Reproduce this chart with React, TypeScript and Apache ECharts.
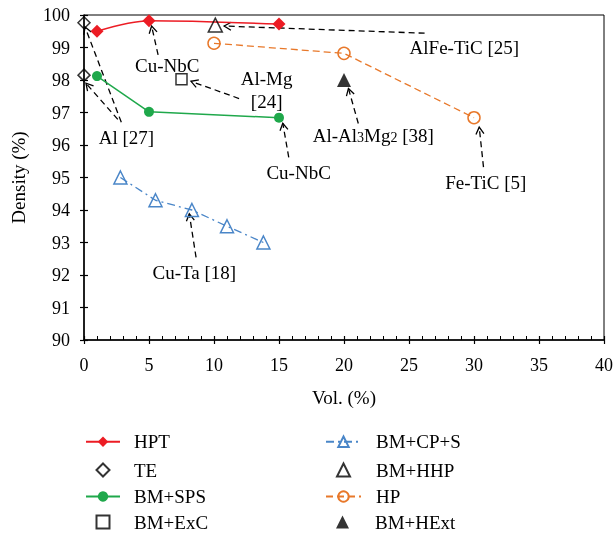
import React, { useEffect, useRef } from "react";
import * as echarts from "echarts";

const FONT = "Liberation Serif";

// Series data (Vol. %, Density %)
const hptX = [1, 5, 15];
const hptY = [99.5, 99.82, 99.72];
const teX = [0, 0];
const teY = [99.76, 98.15];
const spsX = [1, 5, 15];
const spsY = [98.12, 97.02, 96.84];
const excX = [7.5];
const excY = [98.02];
const cpsX = [2.8, 5.5, 8.3, 11, 13.8];
const cpsY = [95, 94.3, 94, 93.5, 93];
const hhpX = [10.1];
const hhpY = [99.69];
const hpX = [10, 20, 30];
const hpY = [99.13, 98.82, 96.84];
const hextX = [20];
const hextY = [98];

// Annotation labels (data coordinates)
const labelText = [
  "Cu-NbC",
  "Al [27]",
  "Al-Mg\n[24]",
  "AlFe-TiC [25]",
  "{n|Al-Al}{s|3}{n|Mg}{s|2}{n| [38]}",
  "Cu-NbC",
  "Fe-TiC [5]",
  "Cu-Ta [18]",
];
const labelX = [6.4, 3.26, 14.05, 29.26, 22.25, 16.51, 30.91, 8.49];
const labelY = [98.45, 96.24, 97.7, 98.99, 96.3, 95.16, 94.86, 92.08];

// Annotation arrows (from -> to, data coordinates)
const arrowFromX = [5.7, 2.87, 2.6, 11.93, 26.2, 21.1, 15.75, 30.73, 8.62];
const arrowFromY = [98.77, 96.7, 96.79, 97.43, 99.44, 96.66, 95.62, 95.32, 92.54];
const arrowToX = [5.2, 0.08, 0.15, 8.23, 10.78, 20.34, 15.29, 30.4, 8.1];
const arrowToY = [99.66, 99.63, 97.9, 97.96, 99.66, 97.74, 96.67, 96.55, 93.88];

// Legend entries: column 1 then column 2
const legendCol1 = ["HPT", "TE", "BM+SPS", "BM+ExC"];
const legendCol2 = ["BM+CP+S", "BM+HHP", "HP", "BM+HExt"];
const lineSeriesNames = ["HPT", "BM+SPS", "BM+CP+S", "HP"];

const xMin = 0, xMax = 40, xStep = 5;
const yMin = 90, yMax = 100, yStep = 1;

const RED = "#EC1C24";
const GREEN = "#1FA84B";
const BLUE = "#4A86C8";
const ORANGE = "#E8782A";

const zip = (xs: number[], ys: number[]) => xs.map((x, i) => [x, ys[i]]);

export default function App() {
  const ref = useRef<HTMLDivElement>(null);
  useEffect(() => {
    if (!ref.current) return;
    const chart = echarts.init(ref.current, undefined, { renderer: "svg" });
    const tickText = { fontFamily: FONT, fontSize: 18, color: "#000" };
    const textStyle = { fontFamily: FONT, fontSize: 19, color: "#000" };
    const hollow = (c: string) => ({ color: "rgba(255,255,255,0)", borderColor: c, borderWidth: 1.5 });

    const baseX = { type: "value", min: xMin, max: xMax, interval: xStep, splitLine: { show: false } };
    const baseY = { type: "value", min: yMin, max: yMax, interval: yStep, splitLine: { show: false } };

    const rowCenters = [441.7, 470, 496.5, 522];
    const makeLegends = (names: string[], lineLeft: number, lineW: number, textStart: number) =>
      names.map((nm, i) => {
        const isLine = lineSeriesNames.includes(nm);
        const w = isLine ? lineW : 13;
        const left = isLine ? lineLeft : lineLeft + lineW / 2 - w / 2;
        const pad = textStart - (left + w + 5);
        return {
          orient: "vertical",
          left,
          top: rowCenters[i] - 9.5,
          padding: 0,
          itemGap: 0,
          itemWidth: w,
          itemHeight: 13,
          textStyle: { ...textStyle, lineHeight: 19, padding: [0, 0, 0, pad] },
          data: [nm],
        };
      });

    const option: any = {
      animation: false,
      grid: {
        left: 84,
        right: 9,
        top: 15,
        bottom: 195,
        show: true,
        borderColor: "#000",
        borderWidth: 1,
      },
      xAxis: [
        {
          ...baseX,
          position: "bottom",
          name: "Vol. (%)",
          nameLocation: "middle",
          nameGap: 48,
          nameTextStyle: textStyle,
          axisLine: { lineStyle: { color: "#000", width: 1.5 } },
          axisTick: { inside: true, length: 4, lineStyle: { color: "#000", width: 1.2 } },
          minorTick: { show: true, splitNumber: 5, length: 4, lineStyle: { color: "#000", width: 1 } },
          axisLabel: { ...tickText, margin: 16 },
        },
        {
          ...baseX,
          position: "bottom",
          axisLine: { show: false },
          axisTick: { inside: false, length: 4, lineStyle: { color: "#000", width: 1.2 } },
          axisLabel: { show: false },
        },
      ],
      yAxis: [
        {
          ...baseY,
          position: "left",
          name: "Density (%)",
          nameLocation: "middle",
          nameGap: 56,
          nameTextStyle: textStyle,
          axisLine: { lineStyle: { color: "#000", width: 1.5 } },
          axisTick: { inside: true, length: 4, lineStyle: { color: "#000", width: 1.2 } },
          axisLabel: { ...tickText, margin: 14 },
        },
        {
          ...baseY,
          position: "left",
          axisLine: { show: false },
          axisTick: { inside: false, length: 4, lineStyle: { color: "#000", width: 1.2 } },
          axisLabel: { show: false },
        },
      ],
      legend: [...makeLegends(legendCol1, 85, 34, 133), ...makeLegends(legendCol2, 325, 35, 375)],
      series: [
        {
          name: "HPT",
          type: "line",
          data: zip(hptX, hptY),
          symbol: "diamond",
          symbolSize: 13,
          itemStyle: { color: RED },
          lineStyle: { color: RED, width: 1.5 },
          smooth: 0.3,
          z: 5,
        },
        {
          name: "TE",
          type: "scatter",
          data: zip(teX, teY),
          symbol: "diamond",
          symbolSize: 12,
          itemStyle: hollow("#000"),
          z: 6,
        },
        {
          name: "BM+SPS",
          type: "line",
          data: zip(spsX, spsY),
          symbol: "circle",
          symbolSize: 10,
          itemStyle: { color: GREEN },
          lineStyle: { color: GREEN, width: 1.5 },
          z: 5,
        },
        {
          name: "BM+ExC",
          type: "scatter",
          data: zip(excX, excY),
          symbol: "rect",
          symbolSize: 11,
          itemStyle: hollow("#000"),
          z: 6,
        },
        {
          name: "BM+CP+S",
          type: "line",
          data: zip(cpsX, cpsY),
          symbol: "triangle",
          symbolSize: 13,
          itemStyle: hollow(BLUE),
          lineStyle: { color: BLUE, width: 1.3, type: [8, 4, 2, 4] },
          z: 5,
        },
        {
          name: "BM+HHP",
          type: "scatter",
          data: zip(hhpX, hhpY),
          symbol: "triangle",
          symbolSize: 14,
          itemStyle: hollow("#000"),
          z: 6,
        },
        {
          name: "HP",
          type: "line",
          data: zip(hpX, hpY),
          symbol: "circle",
          symbolSize: 12,
          itemStyle: hollow(ORANGE),
          lineStyle: { color: ORANGE, width: 1.3, type: [7, 4] },
          z: 5,
        },
        {
          name: "BM+HExt",
          type: "scatter",
          data: zip(hextX, hextY),
          symbol: "triangle",
          symbolSize: 14,
          itemStyle: { color: "#000" },
          z: 6,
        },
        {
          name: "arrows",
          type: "custom",
          coordinateSystem: "cartesian2d",
          silent: true,
          z: 4,
          data: arrowFromX.map((x, i) => [x, arrowFromY[i], arrowToX[i], arrowToY[i]]),
          renderItem: (params: any, api: any) => {
            const p1 = api.coord([api.value(0), api.value(1)]);
            const p2 = api.coord([api.value(2), api.value(3)]);
            const ang = Math.atan2(p2[1] - p1[1], p2[0] - p1[0]);
            const L = 8;
            const a = Math.PI / 6;
            const h1 = [p2[0] - L * Math.cos(ang - a), p2[1] - L * Math.sin(ang - a)];
            const h2 = [p2[0] - L * Math.cos(ang + a), p2[1] - L * Math.sin(ang + a)];
            return {
              type: "group",
              children: [
                {
                  type: "line",
                  shape: { x1: p1[0], y1: p1[1], x2: p2[0], y2: p2[1] },
                  style: { stroke: "#000", lineWidth: 1.3, lineDash: [6, 4], fill: null },
                },
                {
                  type: "polyline",
                  shape: { points: [h1, p2, h2] },
                  style: { stroke: "#000", lineWidth: 1.3, fill: null },
                },
              ],
            };
          },
        },
        {
          name: "labels",
          type: "custom",
          coordinateSystem: "cartesian2d",
          silent: true,
          z: 7,
          data: labelX.map((x, i) => [x, labelY[i], i]),
          renderItem: (params: any, api: any) => {
            const p = api.coord([api.value(0), api.value(1)]);
            const t = labelText[api.value(2) as number];
            return {
              type: "text",
              x: p[0],
              y: p[1],
              style: {
                text: t,
                fontFamily: FONT,
                fontSize: 19,
                lineHeight: 23,
                fill: "#000",
                align: "center",
                verticalAlign: "middle",
                rich: {
                  n: { fontFamily: FONT, fontSize: 19, lineHeight: 19, padding: [0, 0, 3, 0], verticalAlign: "top" },
                  s: { fontFamily: FONT, fontSize: 14, lineHeight: 14, verticalAlign: "bottom" },
                },
              },
            };
          },
        },
      ],
    };
    chart.setOption(option);
    return () => chart.dispose();
  }, []);
  return <div ref={ref} style={{ position: "fixed", left: 0, top: 0, width: 616, height: 535 }} />;
}
